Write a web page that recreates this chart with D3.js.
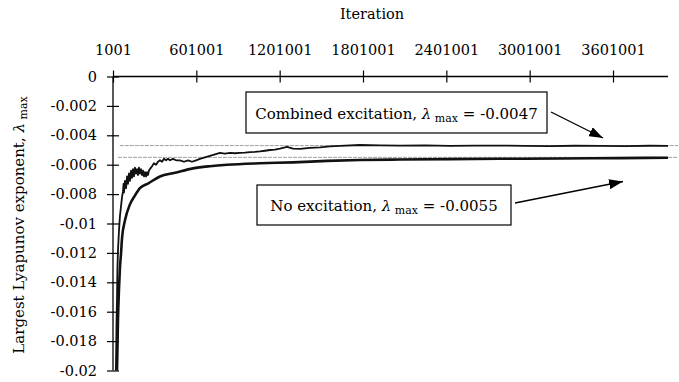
<!DOCTYPE html>
<html>
<head>
<meta charset="utf-8">
<script src="https://cdn.jsdelivr.net/npm/d3@7"></script>
<style>
  html, body { margin: 0; padding: 0; background: #fff; }
  svg { display: block; }
</style>
</head>
<body>
<svg id="chart" width="679" height="382"></svg>
<script>
// Iteration ticks along the top axis
const xTicks = [1001, 601001, 1201001, 1801001, 2401001, 3001001, 3601001];
const yTicks = [0, -0.002, -0.004, -0.006, -0.008, -0.01, -0.012, -0.014, -0.016, -0.018, -0.02];

// Combined excitation: iteration and running estimate of lambda max
const combinedIter = [22000, 26000, 30000, 33000, 37000, 44000, 51000, 59000, 66000, 73000, 77000, 80000,
  87000, 95000, 102000, 109000, 116000, 123000, 131000, 138000, 145000, 152000, 159000, 167000, 174000,
  181000, 188000, 195000, 203000, 210000, 217000, 224000, 231000, 239000, 246000, 253000, 260000, 267000,
  282000, 296000, 311000, 325000, 339000, 354000, 368000, 383000, 397000, 411000, 433000, 455000, 483000,
  512000, 541000, 570000, 599000, 627000, 663000, 699000, 735000, 771000, 807000, 843000, 879000, 915000,
  951000, 987000, 1023000, 1059000, 1095000, 1131000, 1167000, 1203000, 1254000, 1297000, 1347000,
  1419000, 1491000, 1563000, 1635000, 1779000, 1923000, 2067000, 2247000, 2427000, 2607000, 2787000,
  2967000, 3147000, 3327000, 3507000, 3687000, 3867000, 3997000];
const combinedLmax = [-0.0200, -0.0170, -0.0150, -0.0130, -0.0118, -0.0105, -0.0095, -0.0088, -0.0082, -0.0078, -0.0073, -0.0079,
  -0.0071, -0.0076, -0.0068, -0.0073, -0.0066, -0.0071, -0.0064, -0.0069, -0.0063, -0.0068, -0.0062, -0.0066, -0.0063,
  -0.0067, -0.0062, -0.0066, -0.0063, -0.0067, -0.0064, -0.0068, -0.0065, -0.0068, -0.0065, -0.0067, -0.0064, -0.0063,
  -0.0061, -0.0059, -0.0060, -0.0058, -0.0057, -0.0058, -0.0056, -0.0057, -0.0056, -0.0057, -0.0056, -0.0057, -0.0057,
  -0.0058, -0.0057, -0.0058, -0.0057, -0.0056, -0.0055, -0.0054, -0.0053, -0.0052, -0.00525, -0.0052, -0.00522, -0.0052,
  -0.00518, -0.00515, -0.00513, -0.0051, -0.00505, -0.0050, -0.00497, -0.0049, -0.00478, -0.0049, -0.00492,
  -0.00485, -0.00482, -0.00476, -0.00472, -0.00466, -0.00469, -0.00470, -0.00468, -0.00472, -0.00470, -0.00470,
  -0.00472, -0.00473, -0.00471, -0.00472, -0.00473, -0.00471, -0.00472];

// No excitation
const noneIter = [30000, 37000, 44000, 51000, 59000, 66000, 87000, 123000, 159000, 195000, 253000, 339000,
  447000, 577000, 699000, 822000, 1059000, 1297000, 1542000, 1779000, 2067000, 2427000, 2787000, 3219000,
  3651000, 3997000];
const noneLmax = [-0.0200, -0.0165, -0.0145, -0.0130, -0.0120, -0.0110, -0.0098, -0.0087, -0.0081, -0.0076, -0.00728, -0.0068,
  -0.00655, -0.00625, -0.0061, -0.0060, -0.0059, -0.00584, -0.00574, -0.00568, -0.00565, -0.00562, -0.0056, -0.00558,
  -0.00555, -0.00553];

// Converged values shown as reference lines
const refValues = [-0.0047, -0.0055];
const refStart = [50000, 37000];
const refEnd = 4070000;

const labels = [
  { name: "Combined excitation", value: -0.0047 },
  { name: "No excitation", value: -0.0055 }
];

const serif = "DejaVu Serif";
const fs = 14.5;
const svg = d3.select("#chart");
const plotL = 113, plotR = 668, plotT = 76.5, plotB = 370.5;

const x = d3.scaleLinear().domain([1001, 3997001]).range([plotL, plotR]);
const y = d3.scaleLinear().domain([0, -0.02]).range([plotT, plotB]);

// Top x axis with ticks crossing the line
const xAxis = svg.append("g")
  .attr("transform", `translate(0,${plotT})`)
  .call(d3.axisTop(x).tickValues(xTicks).tickFormat(d3.format("d")).tickSize(6).tickPadding(16));
xAxis.attr("font-family", serif).attr("font-size", fs);
xAxis.select(".domain").attr("d", `M${plotL},0H${plotR}`).attr("stroke", "#000").attr("stroke-width", 1.3);
xAxis.selectAll(".tick line").attr("y1", 6).attr("y2", -6).attr("stroke", "#000").attr("stroke-width", 1.2);

// Left y axis
const yAxis = svg.append("g")
  .attr("transform", `translate(${plotL},0)`)
  .call(d3.axisLeft(y).tickValues(yTicks).tickFormat(d => d === 0 ? "0" : String(+d.toFixed(3))).tickSize(6).tickPadding(10));
yAxis.attr("font-family", serif).attr("font-size", fs);
yAxis.select(".domain").attr("d", `M0,${plotT}V${plotB}`).attr("stroke", "#000").attr("stroke-width", 1.3);
yAxis.selectAll(".tick line").attr("x1", 6).attr("x2", -6).attr("stroke", "#000").attr("stroke-width", 1.2);

// Axis titles
svg.append("text").attr("x", 372).attr("y", 19).attr("text-anchor", "middle")
  .attr("font-family", serif).attr("font-size", fs).text("Iteration");

const yt = svg.append("text").attr("transform", "translate(24,225) rotate(-90)")
  .attr("text-anchor", "middle").attr("font-family", serif).attr("font-size", 15);
yt.append("tspan").text("Largest Lyapunov exponent, ");
yt.append("tspan").attr("font-style", "italic").text("λ");
yt.append("tspan").attr("font-size", 11).attr("dy", 3).text(" max");

// Reference lines at the converged values
svg.append("g").selectAll("line").data(refValues).join("line")
  .attr("x1", (d, i) => x(refStart[i])).attr("x2", x(refEnd))
  .attr("y1", d => y(d)).attr("y2", d => y(d))
  .attr("stroke", "#a0a0a0").attr("stroke-width", 1).attr("stroke-dasharray", "4,1");

svg.append("path").datum(d3.zip(noneIter, noneLmax))
  .attr("d", d3.line().x(d => x(d[0])).y(d => y(d[1])).curve(d3.curveMonotoneX))
  .attr("fill", "none").attr("stroke", "#111").attr("stroke-width", 2.6);

svg.append("path").datum(d3.zip(combinedIter, combinedLmax))
  .attr("d", d3.line().x(d => x(d[0])).y(d => y(d[1])))
  .attr("fill", "none").attr("stroke", "#111").attr("stroke-width", 1.8).attr("stroke-linejoin", "round");

// Annotation boxes with arrows
const defs = svg.append("defs");
defs.append("marker").attr("id", "head").attr("viewBox", "0 0 14 10")
  .attr("refX", 14).attr("refY", 5).attr("markerWidth", 14).attr("markerHeight", 10)
  .attr("markerUnits", "userSpaceOnUse").attr("orient", "auto")
  .append("path").attr("d", "M0,0L14,5L0,10Z").attr("fill", "#000");

const boxes = [
  { x0: 246, y0: 92, w: 301, h: 41, ax: [551, 112, 603, 138] },
  { x0: 257, y0: 185, w: 254, h: 40, ax: [515, 203, 623, 181.5] }
];

boxes.forEach((b, i) => {
  const g = svg.append("g");
  g.append("rect").attr("x", b.x0).attr("y", b.y0).attr("width", b.w).attr("height", b.h)
    .attr("fill", "#fff").attr("stroke", "#000").attr("stroke-width", 1.2);
  const t = g.append("text").attr("x", b.x0 + b.w / 2).attr("y", b.y0 + b.h / 2 + 6)
    .attr("text-anchor", "middle").attr("font-family", serif).attr("font-size", 15);
  t.append("tspan").text(labels[i].name + ", ");
  t.append("tspan").attr("font-style", "italic").text("λ");
  t.append("tspan").attr("font-size", 11).attr("dy", 3).text(" max");
  t.append("tspan").attr("dy", -3).text(" = " + labels[i].value.toFixed(4));
  g.append("line").attr("x1", b.ax[0]).attr("y1", b.ax[1]).attr("x2", b.ax[2]).attr("y2", b.ax[3])
    .attr("stroke", "#000").attr("stroke-width", 1.3).attr("marker-end", "url(#head)");
});
</script>
</body>
</html>
